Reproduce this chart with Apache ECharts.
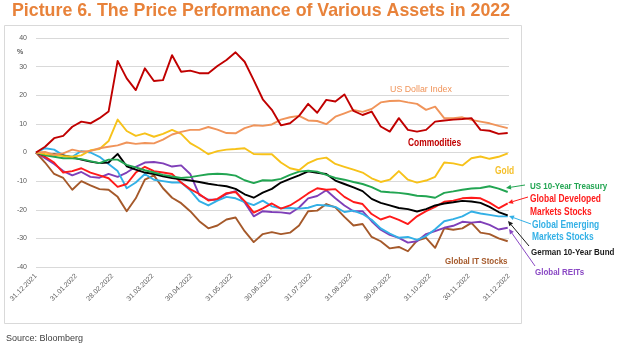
<!DOCTYPE html>
<html>
<head>
<meta charset="utf-8">
<script src="https://cdn.jsdelivr.net/npm/echarts@6/dist/echarts.min.js"></script>
<style>
  html, body { margin: 0; padding: 0; background: #ffffff; }
  #chart { width: 620px; height: 349px; }
</style>
</head>
<body>
<div id="chart"></div>
<script>
// Month-end tick labels on the date axis
const monthEnds = ['31.12.2021', '31.01.2022', '28.02.2022', '31.03.2022', '30.04.2022', '31.05.2022',
  '30.06.2022', '31.07.2022', '31.08.2022', '30.09.2022', '31.10.2022', '30.11.2022', '31.12.2022'];

// Weekly observation points: days elapsed since 31.12.2021
const sampleDays = Array.from({ length: 53 }, (_, k) => Math.min(7 * k, 364));

// Cumulative price change since 31.12.2021, %
const commodities = [0, 2, 5, 5.8, 9, 10.8, 10.2, 12, 14.3, 32, 25.9, 21.8, 29.4, 25, 25.3, 34, 28.2, 28.6, 27.7, 27.7,
  30.2, 32.3, 35, 31.7, 25.3, 18.6, 14.9, 9.5, 10.2, 12.8, 17, 13.9, 18.4, 17.8, 20.3, 14.5, 13.1, 14.3, 9.1, 7.3,
  12, 7.9, 7.3, 7.9, 10.8, 11.2, 11.5, 11.7, 12, 7.9, 7.6, 6.5, 6.8];
const usDollarIndex = [0, 0.2, -0.8, -0.3, 1.0, 0.3, 0.5, 1.5, 2.0, 2.5, 3.5, 3.0, 3.3, 3.2, 4.5, 6.3, 7.2, 7.9, 7.9, 8.9,
  8.0, 6.8, 6.7, 8.5, 9.5, 9.3, 9.8, 11.5, 12.3, 12.8, 11.2, 11, 9.9, 12.5, 13.7, 14.9, 14.2, 15.2, 17.5, 18,
  18.1, 17.5, 17, 14.9, 16, 12, 12, 12.3, 11.4, 10.8, 10.2, 9.3, 8.5];
const gold = [0, -0.5, -0.8, -1.2, -1.5, -1.0, 0.8, 1.2, 4.0, 11.5, 7.5, 5.8, 6.7, 5.5, 6.5, 7.9, 6.5, 3.3, 1.5, -0.6,
  0.5, 1.0, 1.2, 1.5, -0.5, -0.6, -0.6, -3.5, -5.5, -6.2, -3.7, -2.3, -1.8, -4, -5, -6, -7, -9, -10.3, -9.5,
  -6.5, -9.5, -10.5, -9.8, -8.5, -3.5, -3.8, -4.5, -2, -1.4, -2.2, -1.5, -0.3];
const usTreasury10y = [0, -1, -1.5, -2, -2, -2.3, -3, -3.7, -2.5, -2.5, -4.3, -5.2, -6.2, -7, -7.8, -8.4, -8.9, -8.6, -8.1, -7.6,
  -7.4, -7.6, -8.1, -9.7, -10.7, -9.7, -9.8, -9.2, -7.8, -6.7, -6.4, -6.7, -7.8, -8.9, -9.5, -10.3, -11, -12.1, -13.6, -13.9,
  -14.1, -14.5, -15.1, -15.3, -15.8, -14.1, -13.6, -13, -12.6, -12.4, -11.8, -12.6, -13.8];
const germanBund10y = [0, -1, -0.6, -1, -1.7, -2.5, -3.2, -3.7, -3.5, -0.5, -4.8, -6, -7, -7.5, -8.3, -8.9, -9.4, -9.8, -10.3, -10.9,
  -11.4, -11.8, -12.7, -14.6, -15.8, -14, -12.7, -10.5, -9.2, -8, -6.6, -7.1, -7.5, -9.8, -11, -12.2, -13.5, -16.2, -17.6, -18.5,
  -19.4, -19.8, -20.6, -19.8, -18.5, -17.8, -17.4, -16.9, -17.1, -17.6, -19, -20.8, -22];
const developedStocks = [0, -1.5, -3.5, -7, -6.5, -5.5, -7, -8, -9, -12, -11, -7, -5, -6.5, -7, -7.5, -10.5, -12.8, -14.5, -16.8,
  -16.2, -14.2, -13.8, -17, -21, -19.5, -17.8, -19.6, -18.5, -16.5, -14.3, -12.5, -13, -12.8, -15.5, -17.3, -18, -21.5, -23.4, -22.3,
  -23.5, -25, -22.3, -20.5, -19, -17.2, -16.8, -16, -15.8, -16, -17.5, -19.5, -17.8];
const emergingStocks = [0, 1.5, 1, -1, -1.5, 0.5, 0, -1.5, -4, -6.5, -12.5, -10.5, -7.5, -9.5, -10, -10.5, -10.5, -13.2, -17, -18.5,
  -16.8, -15.5, -16, -17.3, -18.4, -16.8, -18.8, -19.5, -19.4, -19.6, -19.3, -18.3, -18.5, -19, -20.8, -20.3, -21.5, -23.5, -26.5, -28.3,
  -29.8, -29.5, -30.5, -29.2, -26.8, -24, -23.3, -22.3, -20.6, -21.3, -21.8, -22.3, -22.3];
const globalReits = [0, -2, -4, -6.5, -8, -6.8, -8.5, -8.8, -7.5, -8.5, -7, -5, -3.5, -3.3, -3.8, -4.9, -4.5, -7.5, -14.8, -16.5,
  -16.5, -14.5, -13.5, -17.5, -22.3, -20.5, -20.8, -20.9, -21.3, -19.2, -16, -15.2, -13.2, -16, -18.5, -20.5, -20.5, -24, -27, -28.8,
  -29.8, -31.5, -31, -28.5, -27.5, -26.3, -25.6, -24.2, -24.5, -24.2, -25.3, -26.9, -26.3];
const globalItStocks = [0, -3.5, -7.5, -8.9, -13, -10, -11.5, -12.8, -13, -15.5, -20.5, -16, -9.5, -8, -12.5, -15.8, -17.7, -20.5, -24, -26.5,
  -25.5, -23.4, -22.7, -27.5, -31.3, -28.5, -27.8, -28.5, -28, -25.5, -20.5, -20.3, -18, -19.2, -22.5, -25.5, -25, -29.5, -31, -33.5,
  -33, -34.5, -30.8, -29.8, -33.3, -26.5, -27, -26.5, -24.6, -28, -28.5, -30, -31];

// Every calendar day from 31.12.2021 to 31.12.2022 as a category
const pad = n => String(n).padStart(2, '0');
const days = [];
for (let d = 0; d <= 365; d++) {
  const dt = new Date(Date.UTC(2021, 11, 31 + d));
  days.push(pad(dt.getUTCDate()) + '.' + pad(dt.getUTCMonth() + 1) + '.' + dt.getUTCFullYear());
}
const monthEndSet = new Set(monthEnds);

const arial = '"Liberation Sans", Arial, sans-serif';

function lineSeries(name, values, color) {
  return {
    name, type: 'line', showSymbol: false, silent: true,
    data: sampleDays.map((d, i) => [d, values[i]]),
    lineStyle: { color, width: 1.9, join: 'round' },
    itemStyle: { color }
  };
}

// Small arrow from a label to the end of its series
function arrow(x1, y1, x2, y2, color) {
  const a = Math.atan2(y2 - y1, x2 - x1), L = 5, W = 2.4;
  const bx = x2 - L * Math.cos(a), by = y2 - L * Math.sin(a);
  const px = -Math.sin(a) * W, py = Math.cos(a) * W;
  return [
    { type: 'line', silent: true, shape: { x1, y1, x2: bx, y2: by }, style: { stroke: color, lineWidth: 1 } },
    { type: 'polygon', silent: true, shape: { points: [[x2, y2], [bx + px, by + py], [bx - px, by - py]] }, style: { fill: color } }
  ];
}

// Condensed annotation text (regular face squeezed horizontally)
function label(text, x, y, color, size, weight, squeeze) {
  return {
    type: 'text', silent: true, x, y, scaleX: squeeze || 0.84,
    style: {
      text, fill: color,
      font: (weight || 'bold') + ' ' + size + 'px ' + arial,
      align: 'left', verticalAlign: 'middle', textAlign: 'left', textVerticalAlign: 'middle'
    }
  };
}

const chart = echarts.init(document.getElementById('chart'), null, { renderer: 'canvas' });

chart.setOption({
  animation: false,
  backgroundColor: '#ffffff',
  grid: { left: 36, right: 111, top: 38, bottom: 82 },
  xAxis: {
    type: 'category',
    data: days,
    boundaryGap: false,
    axisLine: { show: false },
    axisTick: { show: false },
    splitLine: { show: false },
    axisLabel: {
      interval: (idx, val) => monthEndSet.has(val),
      rotate: 45,
      margin: 8,
      color: '#595959',
      fontSize: 7,
      fontFamily: arial
    }
  },
  yAxis: {
    type: 'value',
    min: -40, max: 40, interval: 10,
    axisLine: { show: false },
    axisTick: { show: false },
    axisLabel: { color: '#595959', fontSize: 7, fontFamily: arial, margin: 9 },
    splitLine: { lineStyle: { color: '#d9d9d9', width: 1 } }
  },
  series: [
    lineSeries('Global IT Stocks', globalItStocks, '#a5592a'),
    lineSeries('Global REITs', globalReits, '#7f3fb8'),
    lineSeries('Global Emerging Markets Stocks', emergingStocks, '#33b0e6'),
    lineSeries('Global Developed Markets Stocks', developedStocks, '#ff1a1a'),
    lineSeries('German 10-Year Bund', germanBund10y, '#000000'),
    lineSeries('US 10-Year Treasury', usTreasury10y, '#22a552'),
    lineSeries('Gold', gold, '#f7c21a'),
    lineSeries('US Dollar Index', usDollarIndex, '#f0945a'),
    lineSeries('Commodities', commodities, '#c00000')
  ],
  graphic: {
    elements: [
      {
        type: 'rect', silent: true, z: -1,
        shape: { x: 4.5, y: 25.5, width: 517, height: 298 },
        style: { fill: 'none', stroke: '#d9d9d9', lineWidth: 1 }
      },
      {
        type: 'text', silent: true, x: 12, y: 2,
        style: { text: 'Picture 6. The Price Performance of Various Assets in 2022', fill: '#e8823a',
          font: 'bold 17.8px ' + arial }
      },
      {
        type: 'text', silent: true, x: 17, y: 49,
        style: { text: '%', fill: '#595959', font: 'bold 7px ' + arial }
      },
      {
        type: 'text', silent: true, x: 6, y: 334,
        style: { text: 'Source: Bloomberg', fill: '#404040', font: '9px ' + arial }
      },
      label('US Dollar Index', 390, 89, '#f0945a', 9.5, 'normal', 0.93),
      label('Commodities', 408, 143, '#c00000', 10),
      label('Gold', 495, 171, '#f5c02a', 10),
      label('Global IT Stocks', 445, 261, '#a5592a', 9.5),
      label('US 10-Year Treasury', 530, 186, '#22a552', 9.5),
      label('Global Developed', 530, 199, '#ff1a1a', 10),
      label('Markets Stocks', 530, 212, '#ff1a1a', 10),
      label('Global Emerging', 532, 225, '#33b0e6', 10),
      label('Markets Stocks', 532, 237, '#33b0e6', 10),
      label('German 10-Year Bund', 531, 252, '#1a1a1a', 9.5),
      label('Global REITs', 535, 272, '#8a48c4', 9.5),
      ...arrow(525, 185, 506, 188, '#22a552'),
      ...arrow(528, 197, 508, 203, '#ff1a1a'),
      ...arrow(531, 224, 509, 216, '#33b0e6'),
      ...arrow(529, 246, 508, 221, '#1a1a1a'),
      ...arrow(535, 266, 509, 229, '#8a48c4')
    ]
  }
});
</script>
</body>
</html>
